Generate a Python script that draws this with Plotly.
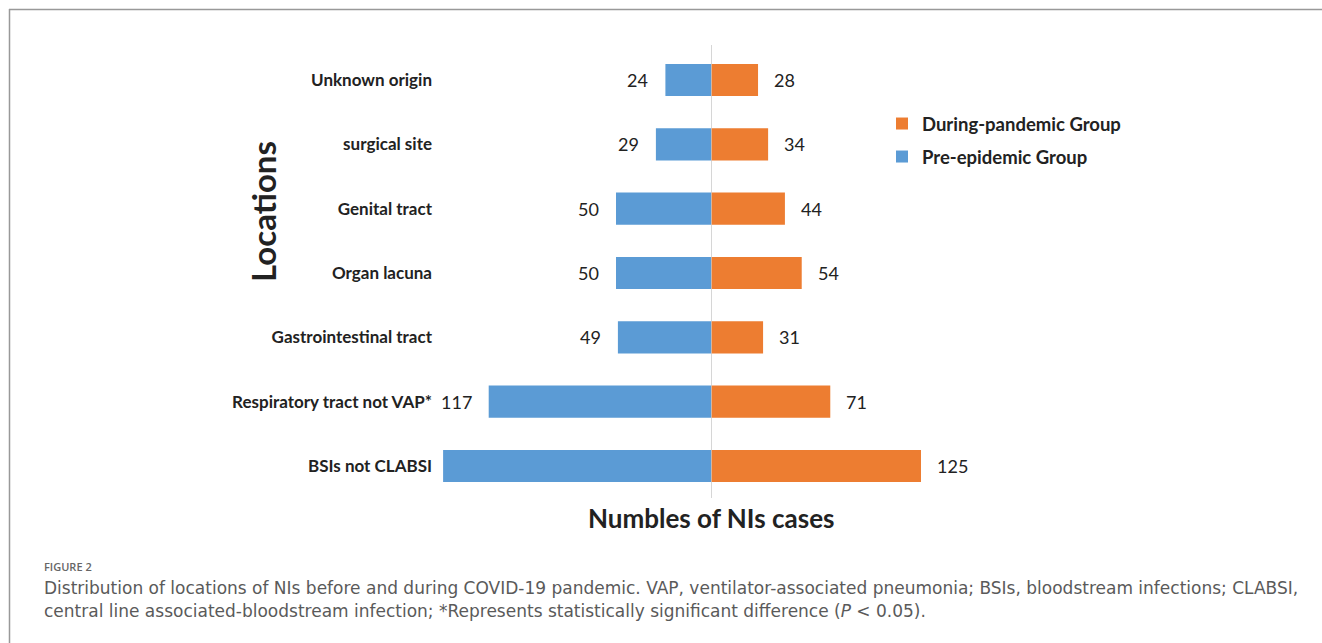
import plotly.graph_objects as go

categories = ["BSIs not CLABSI", "Respiratory tract not VAP*", "Gastrointestinal tract",
              "Organ lacuna", "Genital tract", "surgical site", "Unknown origin"]
pre_epidemic = [141, 117, 49, 50, 50, 29, 24]
during_pandemic = [125, 71, 31, 54, 44, 34, 28]
# the pre-epidemic label of the first category is hidden under its category label in the source
pre_labels = ["", "117", "49", "50", "50", "29", "24"]
during_labels = [str(v) for v in during_pandemic]

W, H = 1322, 643
BLUE = "#5B9BD5"
ORANGE = "#ED7D31"
ZX = 711
LEFT_SCALE = 1.9   # px per unit, pre-epidemic side
RIGHT_SCALE = 1.68  # px per unit, during-pandemic side
RMAX = 150

def px(x):
    return x / W

def py(y):
    return 1 - y / H

fig = go.Figure()
fig.add_trace(go.Bar(y=categories, x=pre_epidemic, orientation="h", name="Pre-epidemic Group",
                     marker=dict(color=BLUE, line=dict(width=0)), width=0.5,
                     xaxis="x", yaxis="y", legend="legend2"))
fig.add_trace(go.Bar(y=categories, x=during_pandemic, orientation="h", name="During-pandemic Group",
                     marker=dict(color=ORANGE, line=dict(width=0)), width=0.5,
                     xaxis="x2", yaxis="y", legend="legend"))

label_font = dict(family="Lato, Open Sans, sans-serif", size=18, color="#222")
anns = []
for c, v, t in zip(categories, pre_epidemic, pre_labels):
    if t:
        anns.append(dict(x=v, y=c, xref="x", yref="y", text=t, showarrow=False,
                         xanchor="right", yanchor="middle", xshift=-15, font=label_font))
for c, v, t in zip(categories, during_pandemic, during_labels):
    anns.append(dict(x=v, y=c, xref="x2", yref="y", text=t, showarrow=False,
                     xanchor="left", yanchor="middle", xshift=14, font=label_font))

anns.append(dict(x=px(263), y=py(212), xref="paper", yref="paper", text="<b>Locations</b>",
                 textangle=-90, showarrow=False, xanchor="center", yanchor="middle",
                 font=dict(family="Lato, sans-serif", size=33, color="#222")))
anns.append(dict(x=px(711), y=py(518), xref="paper", yref="paper", text="<b>Numbles of NIs cases</b>",
                 showarrow=False, xanchor="center", yanchor="middle",
                 font=dict(family="Lato, sans-serif", size=26, color="#222")))
anns.append(dict(x=px(42), y=py(566), xref="paper", yref="paper", text="FIGURE 2",
                 showarrow=False, xanchor="left", yanchor="middle",
                 font=dict(family="Open Sans, sans-serif", size=11, color="#666", weight=600)))
cap1 = ("Distribution of locations of NIs before and during COVID-19 pandemic. VAP, ventilator-associated pneumonia; "
        "BSIs, bloodstream infections; CLABSI,")
cap2 = ("central line associated-bloodstream infection; *Represents statistically significant difference "
        "(<i>P</i> &lt; 0.05).")
cap_font = dict(family="DejaVu Sans, sans-serif", size=17, color="#5a5a5a")
anns.append(dict(x=px(42), y=py(588), xref="paper", yref="paper", text=cap1,
                 showarrow=False, xanchor="left", yanchor="middle", font=cap_font))
anns.append(dict(x=px(42), y=py(611), xref="paper", yref="paper", text=cap2,
                 showarrow=False, xanchor="left", yanchor="middle", font=cap_font))

shapes = [
    dict(type="line", xref="paper", yref="paper", x0=px(9), x1=1, y0=py(9.5), y1=py(9.5),
         line=dict(color="#999", width=1.5)),
    dict(type="line", xref="paper", yref="paper", x0=px(9.5), x1=px(9.5), y0=py(9), y1=0,
         line=dict(color="#999", width=1.5)),
    dict(type="line", xref="x2", yref="paper", x0=0, x1=0, y0=py(45), y1=py(498),
         line=dict(color="#c8c8c8", width=1.5)),
]

leg_font = dict(family="Lato, sans-serif", size=18.5, color="#222", weight="bold")
y_top, y_bot = 47.8, 498.2
fig.update_layout(
    width=W, height=H, margin=dict(l=0, r=0, t=0, b=0),
    paper_bgcolor="white", plot_bgcolor="rgba(0,0,0,0)",
    barmode="overlay",
    xaxis=dict(domain=[px(ZX - RMAX * LEFT_SCALE), px(ZX)], range=[RMAX, 0], visible=False, fixedrange=True),
    xaxis2=dict(domain=[px(ZX), px(ZX + RMAX * RIGHT_SCALE)], range=[0, RMAX], visible=False,
                anchor="y", fixedrange=True),
    yaxis=dict(domain=[py(y_bot), py(y_top)], type="category", categoryorder="array",
               categoryarray=categories, anchor="free", position=px(432), showline=False,
               showgrid=False, zeroline=False, ticks="",
               tickfont=dict(family="Lato, sans-serif", size=17, color="#222", weight="bold")),
    legend=dict(x=px(882), y=py(124), xanchor="left", yanchor="middle",
                font=leg_font, bgcolor="rgba(0,0,0,0)", itemwidth=30),
    legend2=dict(x=px(882), y=py(157), xanchor="left", yanchor="middle",
                 font=leg_font, bgcolor="rgba(0,0,0,0)", itemwidth=30),
    annotations=anns, shapes=shapes, showlegend=True,
)
fig.write_html("out.html")
